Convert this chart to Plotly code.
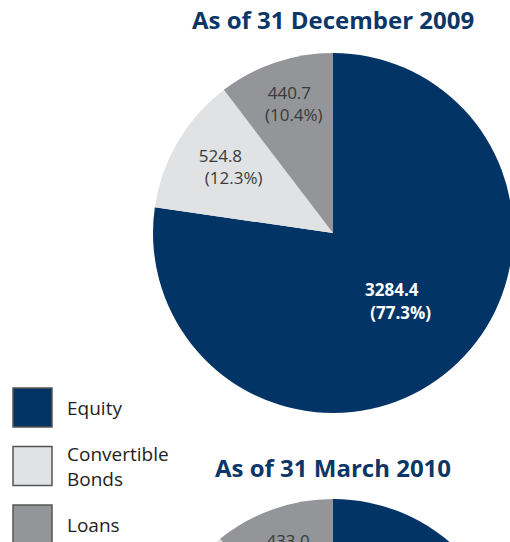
"""Composición del capital: pies por fecha con leyenda lateral."""

import plotly.graph_objects as go

# Datos
categorias = ['Equity', 'Convertible Bonds', 'Loans']
etiquetas_leyenda = ['Equity', 'Convertible<br>Bonds', 'Loans']
valores_dic_2009 = [3284.4, 524.8, 440.7]
valores_mar_2010 = [3100.0, 480.0, 433.0]
titulos = ['As of 31 December 2009', 'As of 31 March 2010']

colores = ['#023466', '#E1E2E4', '#939598']
color_titulo = '#0B3668'
fuente = 'Open Sans'

# Lienzo algo más grande que la ventana; lo que sobra queda recortado
W, H = 516, 870


def px(x):
    return x / W


def py(y):
    return 1 - y / H


esp = '&nbsp;'
plantillas = [
    '<b>%{value:.1f}<br>' + esp * 4 + '(%{percent:.1%})</b>',
    '%{value:.1f}<br>' + esp * 6 + '(%{percent:.1%})',
    '%{value:.1f}<br>' + esp * 2 + '(%{percent:.1%})',
]
colores_texto = ['white', '#3A3A3A', '#3A3A3A']

fig = go.Figure()

# Pie de diciembre 2009 y de marzo 2010
for valores, (y0, y1) in [(valores_dic_2009, (53, 413)), (valores_mar_2010, (499, 859))]:
    fig.add_trace(go.Pie(
        labels=categorias,
        values=valores,
        sort=False,
        direction='clockwise',
        rotation=0,
        marker=dict(colors=colores, line=dict(width=0)),
        texttemplate=plantillas,
        textposition='inside',
        insidetextorientation='horizontal',
        textfont=dict(family=fuente, size=17, color=colores_texto),
        domain=dict(x=[px(153), px(513)], y=[py(y1), py(y0)]),
        showlegend=False,
        hoverinfo='label+value+percent',
    ))

# Títulos
anotaciones = []
for titulo, y in zip(titulos, [20, 467]):
    anotaciones.append(dict(
        text=f'<b>{titulo}</b>', x=px(333), y=py(y), xref='paper', yref='paper',
        showarrow=False, xanchor='center', yanchor='middle',
        font=dict(family=fuente, size=24, color=color_titulo),
    ))

# Leyenda manual con cuadros grandes
formas = []
for i, (nombre, color) in enumerate(zip(etiquetas_leyenda, colores)):
    top = 388 + i * 58.5
    formas.append(dict(
        type='rect', xref='paper', yref='paper',
        x0=px(13), x1=px(52), y0=py(top + 39), y1=py(top),
        fillcolor=color, line=dict(color='#555555', width=1.5),
    ))
    anotaciones.append(dict(
        text=nombre, x=px(65), y=py(top + 19.5), xref='paper', yref='paper',
        showarrow=False, xanchor='left', yanchor='middle', align='left',
        font=dict(family=fuente, size=19, color='#231F20'),
    ))

fig.update_layout(
    width=W,
    height=H,
    margin=dict(l=0, r=0, t=0, b=0),
    paper_bgcolor='white',
    plot_bgcolor='white',
    annotations=anotaciones,
    shapes=formas,
)

fig.write_html(
    "out.html",
    config={'displayModeBar': False},
    post_script="document.body.style.margin='0';document.body.style.overflow='hidden';",
)
